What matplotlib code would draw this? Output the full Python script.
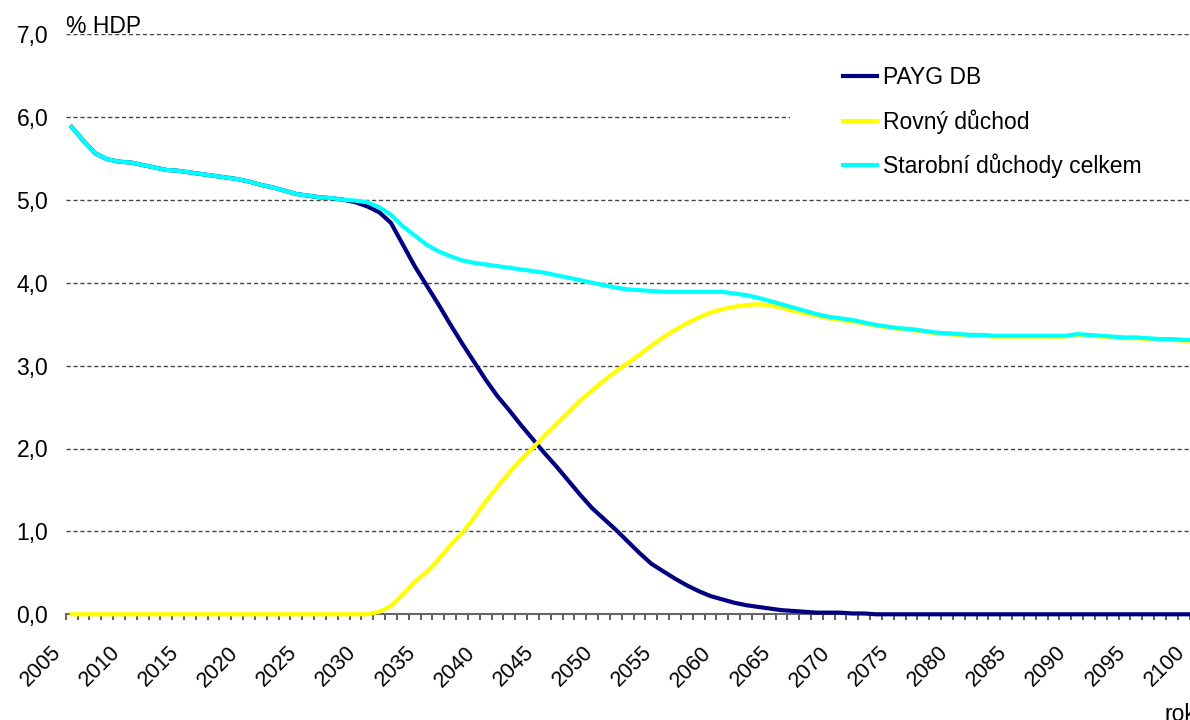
import matplotlib
matplotlib.use("Agg")
import matplotlib.pyplot as plt
import matplotlib.transforms as mtransforms
from matplotlib.patches import Rectangle
import numpy as np

plt.rcParams['font.family'] = ['Liberation Sans', 'DejaVu Sans']

years = list(range(2005, 2101))

# Starobni duchody celkem (cyan)
total = [5.88, 5.71, 5.56, 5.49, 5.46, 5.45, 5.42, 5.39, 5.36, 5.35,
         5.33, 5.31, 5.29, 5.27, 5.25, 5.22, 5.18, 5.15, 5.11, 5.07,
         5.05, 5.03, 5.02, 5.00, 4.99, 4.97, 4.91, 4.82, 4.68, 4.57,
         4.46, 4.38, 4.32, 4.27, 4.24, 4.22, 4.20, 4.18, 4.16, 4.14,
         4.12, 4.09, 4.06, 4.03, 4.00, 3.97, 3.94, 3.92, 3.91, 3.90,
         3.89, 3.89, 3.89, 3.89, 3.89, 3.89, 3.87, 3.85, 3.82, 3.78,
         3.74, 3.70, 3.66, 3.62, 3.59, 3.57, 3.55, 3.52, 3.49, 3.47,
         3.45, 3.44, 3.42, 3.40, 3.39, 3.38, 3.37, 3.37, 3.36, 3.36,
         3.36, 3.36, 3.36, 3.36, 3.36, 3.38, 3.37, 3.36, 3.35, 3.34,
         3.34, 3.33, 3.32, 3.32, 3.31, 3.31]

# PAYG DB (navy)
payg = [5.88, 5.71, 5.56, 5.49, 5.46, 5.45, 5.42, 5.39, 5.36, 5.35,
        5.33, 5.31, 5.29, 5.27, 5.25, 5.22, 5.18, 5.15, 5.11, 5.07,
        5.05, 5.03, 5.02, 5.00, 4.97, 4.92, 4.85, 4.72, 4.46, 4.20,
        3.97, 3.74, 3.50, 3.27, 3.05, 2.83, 2.63, 2.46, 2.28, 2.11,
        1.94, 1.78, 1.61, 1.44, 1.28, 1.15, 1.02, 0.88, 0.74, 0.61,
        0.52, 0.43, 0.35, 0.28, 0.22, 0.18, 0.14, 0.11, 0.09, 0.07,
        0.05, 0.04, 0.03, 0.02, 0.02, 0.02, 0.01, 0.01, 0.00, 0.00,
        0.00, 0.00, 0.00, 0.00, 0.00, 0.00, 0.00, 0.00, 0.00, 0.00,
        0.00, 0.00, 0.00, 0.00, 0.00, 0.00, 0.00, 0.00, 0.00, 0.00,
        0.00, 0.00, 0.00, 0.00, 0.00, 0.00]

# Rovny duchod (yellow)
flat = [0.00, 0.00, 0.00, 0.00, 0.00, 0.00, 0.00, 0.00, 0.00, 0.00,
        0.00, 0.00, 0.00, 0.00, 0.00, 0.00, 0.00, 0.00, 0.00, 0.00,
        0.00, 0.00, 0.00, 0.00, 0.00, 0.00, 0.03, 0.10, 0.24, 0.39,
        0.51, 0.66, 0.83, 0.98, 1.16, 1.36, 1.54, 1.71, 1.87, 2.01,
        2.16, 2.30, 2.44, 2.58, 2.70, 2.82, 2.93, 3.03, 3.13, 3.24,
        3.34, 3.43, 3.51, 3.58, 3.64, 3.68, 3.71, 3.73, 3.74, 3.73,
        3.70, 3.66, 3.63, 3.60, 3.57, 3.55, 3.53, 3.51, 3.48, 3.46,
        3.44, 3.43, 3.41, 3.39, 3.38, 3.37, 3.36, 3.36, 3.35, 3.35,
        3.35, 3.35, 3.35, 3.35, 3.35, 3.37, 3.36, 3.35, 3.34, 3.33,
        3.33, 3.32, 3.31, 3.31, 3.30, 3.30]

labels = ['PAYG DB', 'Rovný důchod', 'Starobní důchody celkem']
colors = ['#000080', '#FFFF00', '#00FFFF']

W, H = 1190, 720
fig = plt.figure(figsize=(W / 100, H / 100), dpi=100)
x0, x1 = 65.7, 65.7 + 96 * 11.83
y0, y1 = 614.3, 34.0
ax = fig.add_axes([x0 / W, 1 - y0 / H, (x1 - x0) / W, (y0 - y1) / H])

ax.set_xlim(2004.5, 2100.5)
ax.set_ylim(0, 7)

for s in ['top', 'right', 'left']:
    ax.spines[s].set_visible(False)
ax.spines['bottom'].set_color('#666666')
ax.spines['bottom'].set_linewidth(1.5)

ax.set_yticks(np.arange(0, 8, 1))
ax.set_yticklabels([('%.1f' % v).replace('.', ',') for v in np.arange(0, 8, 1)], fontsize=16.5)
ax.tick_params(axis='y', length=0, pad=12.5)
for v in range(1, 8):
    ax.axhline(v, color='#444444', lw=1.0, ls=(0, (3, 2)), zorder=1)

ax.set_xticks(np.arange(2005, 2101, 5))
ax.set_xticklabels([str(y) for y in range(2005, 2101, 5)], rotation=45,
                   ha='right', va='top', fontsize=15.5)
ax.set_xticks(np.arange(2004.5, 2101, 1), minor=True)
ax.tick_params(axis='x', which='major', length=0, pad=20)
ax.tick_params(axis='x', which='minor', length=4, width=1.2, color='#444444', direction='out')
offset = mtransforms.ScaledTranslation(-0.065, 0, fig.dpi_scale_trans)
for lab in ax.get_xticklabels():
    lab.set_transform(lab.get_transform() + offset)

# white area behind the legend (hides the 6,0 gridline there)
ax.add_patch(Rectangle(((790 - x0) / (x1 - x0), (y0 - 185) / (y0 - y1)),
                       1.0, (185 - 60) / (y0 - y1), transform=ax.transAxes,
                       facecolor='white', edgecolor='none', zorder=2))

l1, = ax.plot(years, payg, color=colors[0], lw=3, zorder=3, clip_on=False)
l2, = ax.plot(years, flat, color=colors[1], lw=3, zorder=4, clip_on=False)
l3, = ax.plot(years, total, color=colors[2], lw=3, zorder=5, clip_on=False)

ax.legend([l1, l2, l3], labels, loc='upper left', bbox_to_anchor=(843 / W, 1 - 66 / H),
          bbox_transform=fig.transFigure, frameon=False, fontsize=16.5,
          handlelength=1.48, handletextpad=0.26, labelspacing=0.88, borderpad=0,
          borderaxespad=0)

fig.text(66 / W, 1 - 33 / H, '% HDP', fontsize=16.5, va='baseline', ha='left')
fig.text(1165 / W, 1 - 721 / H, 'rok', fontsize=16.5, va='baseline', ha='left')

fig.savefig('out.png', dpi=100)
